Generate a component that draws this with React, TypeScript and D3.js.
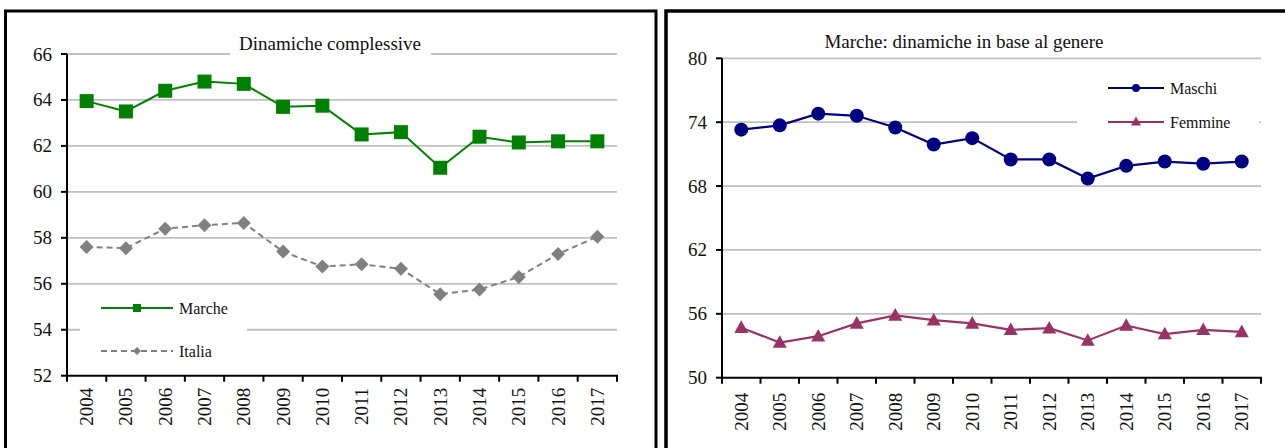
import React from "react";
import * as d3 from "d3";

const years = ["2004","2005","2006","2007","2008","2009","2010","2011","2012","2013","2014","2015","2016","2017"];
const marche = [63.95, 63.5, 64.4, 64.8, 64.7, 63.7, 63.75, 62.5, 62.6, 61.05, 62.4, 62.15, 62.2, 62.2];
const italia = [57.6, 57.55, 58.4, 58.55, 58.65, 57.4, 56.75, 56.85, 56.65, 55.55, 55.75, 56.3, 57.3, 58.05];
const maschi = [73.3, 73.7, 74.8, 74.6, 73.5, 71.9, 72.5, 70.5, 70.5, 68.7, 69.9, 70.3, 70.1, 70.3];
const femmine = [54.7, 53.3, 53.9, 55.1, 55.85, 55.4, 55.1, 54.5, 54.65, 53.5, 54.9, 54.1, 54.5, 54.3];
const leftTicks = [52, 54, 56, 58, 60, 62, 64, 66];
const rightTicks = [50, 56, 62, 68, 74, 80];
const leftTitle = "Dinamiche complessive";
const rightTitle = "Marche: dinamiche in base al genere";

const FONT = "'Liberation Serif', 'Times New Roman', serif";

type Marker = "square" | "diamond" | "circle" | "triangle";

function MarkerShape({ kind, x, y, s, color }: { kind: Marker; x: number; y: number; s: number; color: string }) {
  if (kind === "square") return <rect x={x - s / 2} y={y - s / 2} width={s} height={s} fill={color} />;
  if (kind === "circle") return <circle cx={x} cy={y} r={s / 2} fill={color} />;
  if (kind === "diamond") {
    const h = s / 2;
    return <path d={`M${x},${y - h}L${x + h},${y}L${x},${y + h}L${x - h},${y}Z`} fill={color} />;
  }
  const h = s * 0.9;
  return <path d={`M${x},${y - h / 2 - 1}L${x + s / 2},${y + h / 2 - 1}L${x - s / 2},${y + h / 2 - 1}Z`} fill={color} />;
}

type Series = { name: string; values: number[]; color: string; dash?: string; marker: Marker; width: number };

function Panel(props: {
  x0: number; x1: number; yTop: number; yBot: number; domain: [number, number]; ticks: number[];
  series: Series[]; title: string; titleX: number; titleY: number; titleGap?: [number, number];
  legend: { x: number; y: number; w: number; h: number; lineX0: number; lineX1: number; rowY: number[] };
  xLabelOff: number;
}) {
  const { x0, x1, yTop, yBot, domain, ticks, series, title, titleX, titleY, titleGap, legend, xLabelOff } = props;
  const x = d3.scaleBand<string>().domain(years).range([x0, x1]);
  const y = d3.scaleLinear().domain(domain).range([yBot, yTop]);
  const cx = (c: string) => (x(c) as number) + x.bandwidth() / 2;
  const bounds = d3.range(years.length + 1).map((i) => x0 + i * x.bandwidth());
  return (
    <g>
      {ticks.filter((t) => t !== domain[0]).map((t) => (
        <line key={t} x1={x0} x2={x1} y1={y(t)} y2={y(t)} stroke="#c0c0c0" strokeWidth={1.8} />
      ))}
      {titleGap && <rect x={titleGap[0]} y={y(domain[1]) - 4} width={titleGap[1] - titleGap[0]} height={8} fill="#fff" />}
      <text x={titleX} y={titleY} fontFamily={FONT} fontSize={19} fill="#111" textAnchor="middle">{title}</text>
      <rect x={legend.x} y={legend.y} width={legend.w} height={legend.h} fill="#fff" />
      {series.map((s, i) => {
        const ly = legend.rowY[i];
        const mx = (legend.lineX0 + legend.lineX1) / 2;
        return (
          <g key={s.name}>
            <line x1={legend.lineX0} x2={legend.lineX1} y1={ly} y2={ly} stroke={s.color} strokeWidth={s.width} strokeDasharray={s.dash} />
            <MarkerShape kind={s.marker} x={mx} y={ly} s={s.marker === "triangle" ? 10 : 8} color={s.color} />
            <text x={legend.lineX1 + 6} y={ly + 6} fontFamily={FONT} fontSize={16} fill="#111">{s.name}</text>
          </g>
        );
      })}
      {series.map((s) => {
        const line = d3.line<number>().x((_, i) => cx(years[i])).y((v) => y(v));
        return (
          <g key={s.name}>
            <path d={line(s.values) || ""} fill="none" stroke={s.color} strokeWidth={s.width} strokeDasharray={s.dash} />
            {s.values.map((v, i) => (
              <MarkerShape key={i} kind={s.marker} x={cx(years[i])} y={y(v)} s={14} color={s.color} />
            ))}
          </g>
        );
      })}
      <line x1={x0} x2={x0} y1={yTop} y2={yBot + 1} stroke="#000" strokeWidth={2} />
      <line x1={x0 - 1} x2={x1 + 1} y1={yBot} y2={yBot} stroke="#000" strokeWidth={2} />
      {ticks.map((t) => (
        <g key={t}>
          <line x1={x0 - 6} x2={x0} y1={y(t)} y2={y(t)} stroke="#000" strokeWidth={2} />
          <text x={x0 - 15} y={y(t) + 6.5} fontFamily={FONT} fontSize={19} fill="#111" textAnchor="end">{t}</text>
        </g>
      ))}
      {bounds.map((b, i) => (
        <line key={i} x1={b} x2={b} y1={yBot} y2={yBot + 6} stroke="#000" strokeWidth={2} />
      ))}
      {years.map((c) => (
        <text key={c} transform={`translate(${cx(c) + 6.5},${yBot + xLabelOff}) rotate(-90)`} fontFamily={FONT} fontSize={19} fill="#111" textAnchor="end">{c}</text>
      ))}
    </g>
  );
}

export default function App() {
  return (
    <div style={{ position: "absolute", left: 0, top: 0 }}>
      <svg width={1285} height={448} style={{ display: "block" }}>
        <rect width={1285} height={448} fill="#fff" />
        <rect x={5.5} y={11} width={650.5} height={460} fill="none" stroke="#000" strokeWidth={3} />
        <rect x={666} y={11} width={640} height={460} fill="none" stroke="#000" strokeWidth={3.5} />
        <Panel
          x0={67} x1={617} yTop={54} yBot={375.7} domain={[52, 66]} ticks={leftTicks}
          series={[
            { name: "Marche", values: marche, color: "#008000", marker: "square", width: 2 },
            { name: "Italia", values: italia, color: "#808080", marker: "diamond", width: 2, dash: "6,4" },
          ]}
          title={leftTitle} titleX={330} titleY={50} titleGap={[230, 431]}
          legend={{ x: 80, y: 290, w: 167, h: 78, lineX0: 101, lineX1: 173, rowY: [308, 351] }}
          xLabelOff={12}
        />
        <Panel
          x0={722} x1={1261} yTop={58.3} yBot={377.7} domain={[50, 80]} ticks={rightTicks}
          series={[
            { name: "Maschi", values: maschi, color: "#000080", marker: "circle", width: 2.2 },
            { name: "Femmine", values: femmine, color: "#993366", marker: "triangle", width: 2.2 },
          ]}
          title={rightTitle} titleX={964} titleY={48}
          legend={{ x: 1077, y: 70, w: 182, h: 70, lineX0: 1108, lineX1: 1164, rowY: [88, 122] }}
          xLabelOff={15}
        />
      </svg>
    </div>
  );
}
